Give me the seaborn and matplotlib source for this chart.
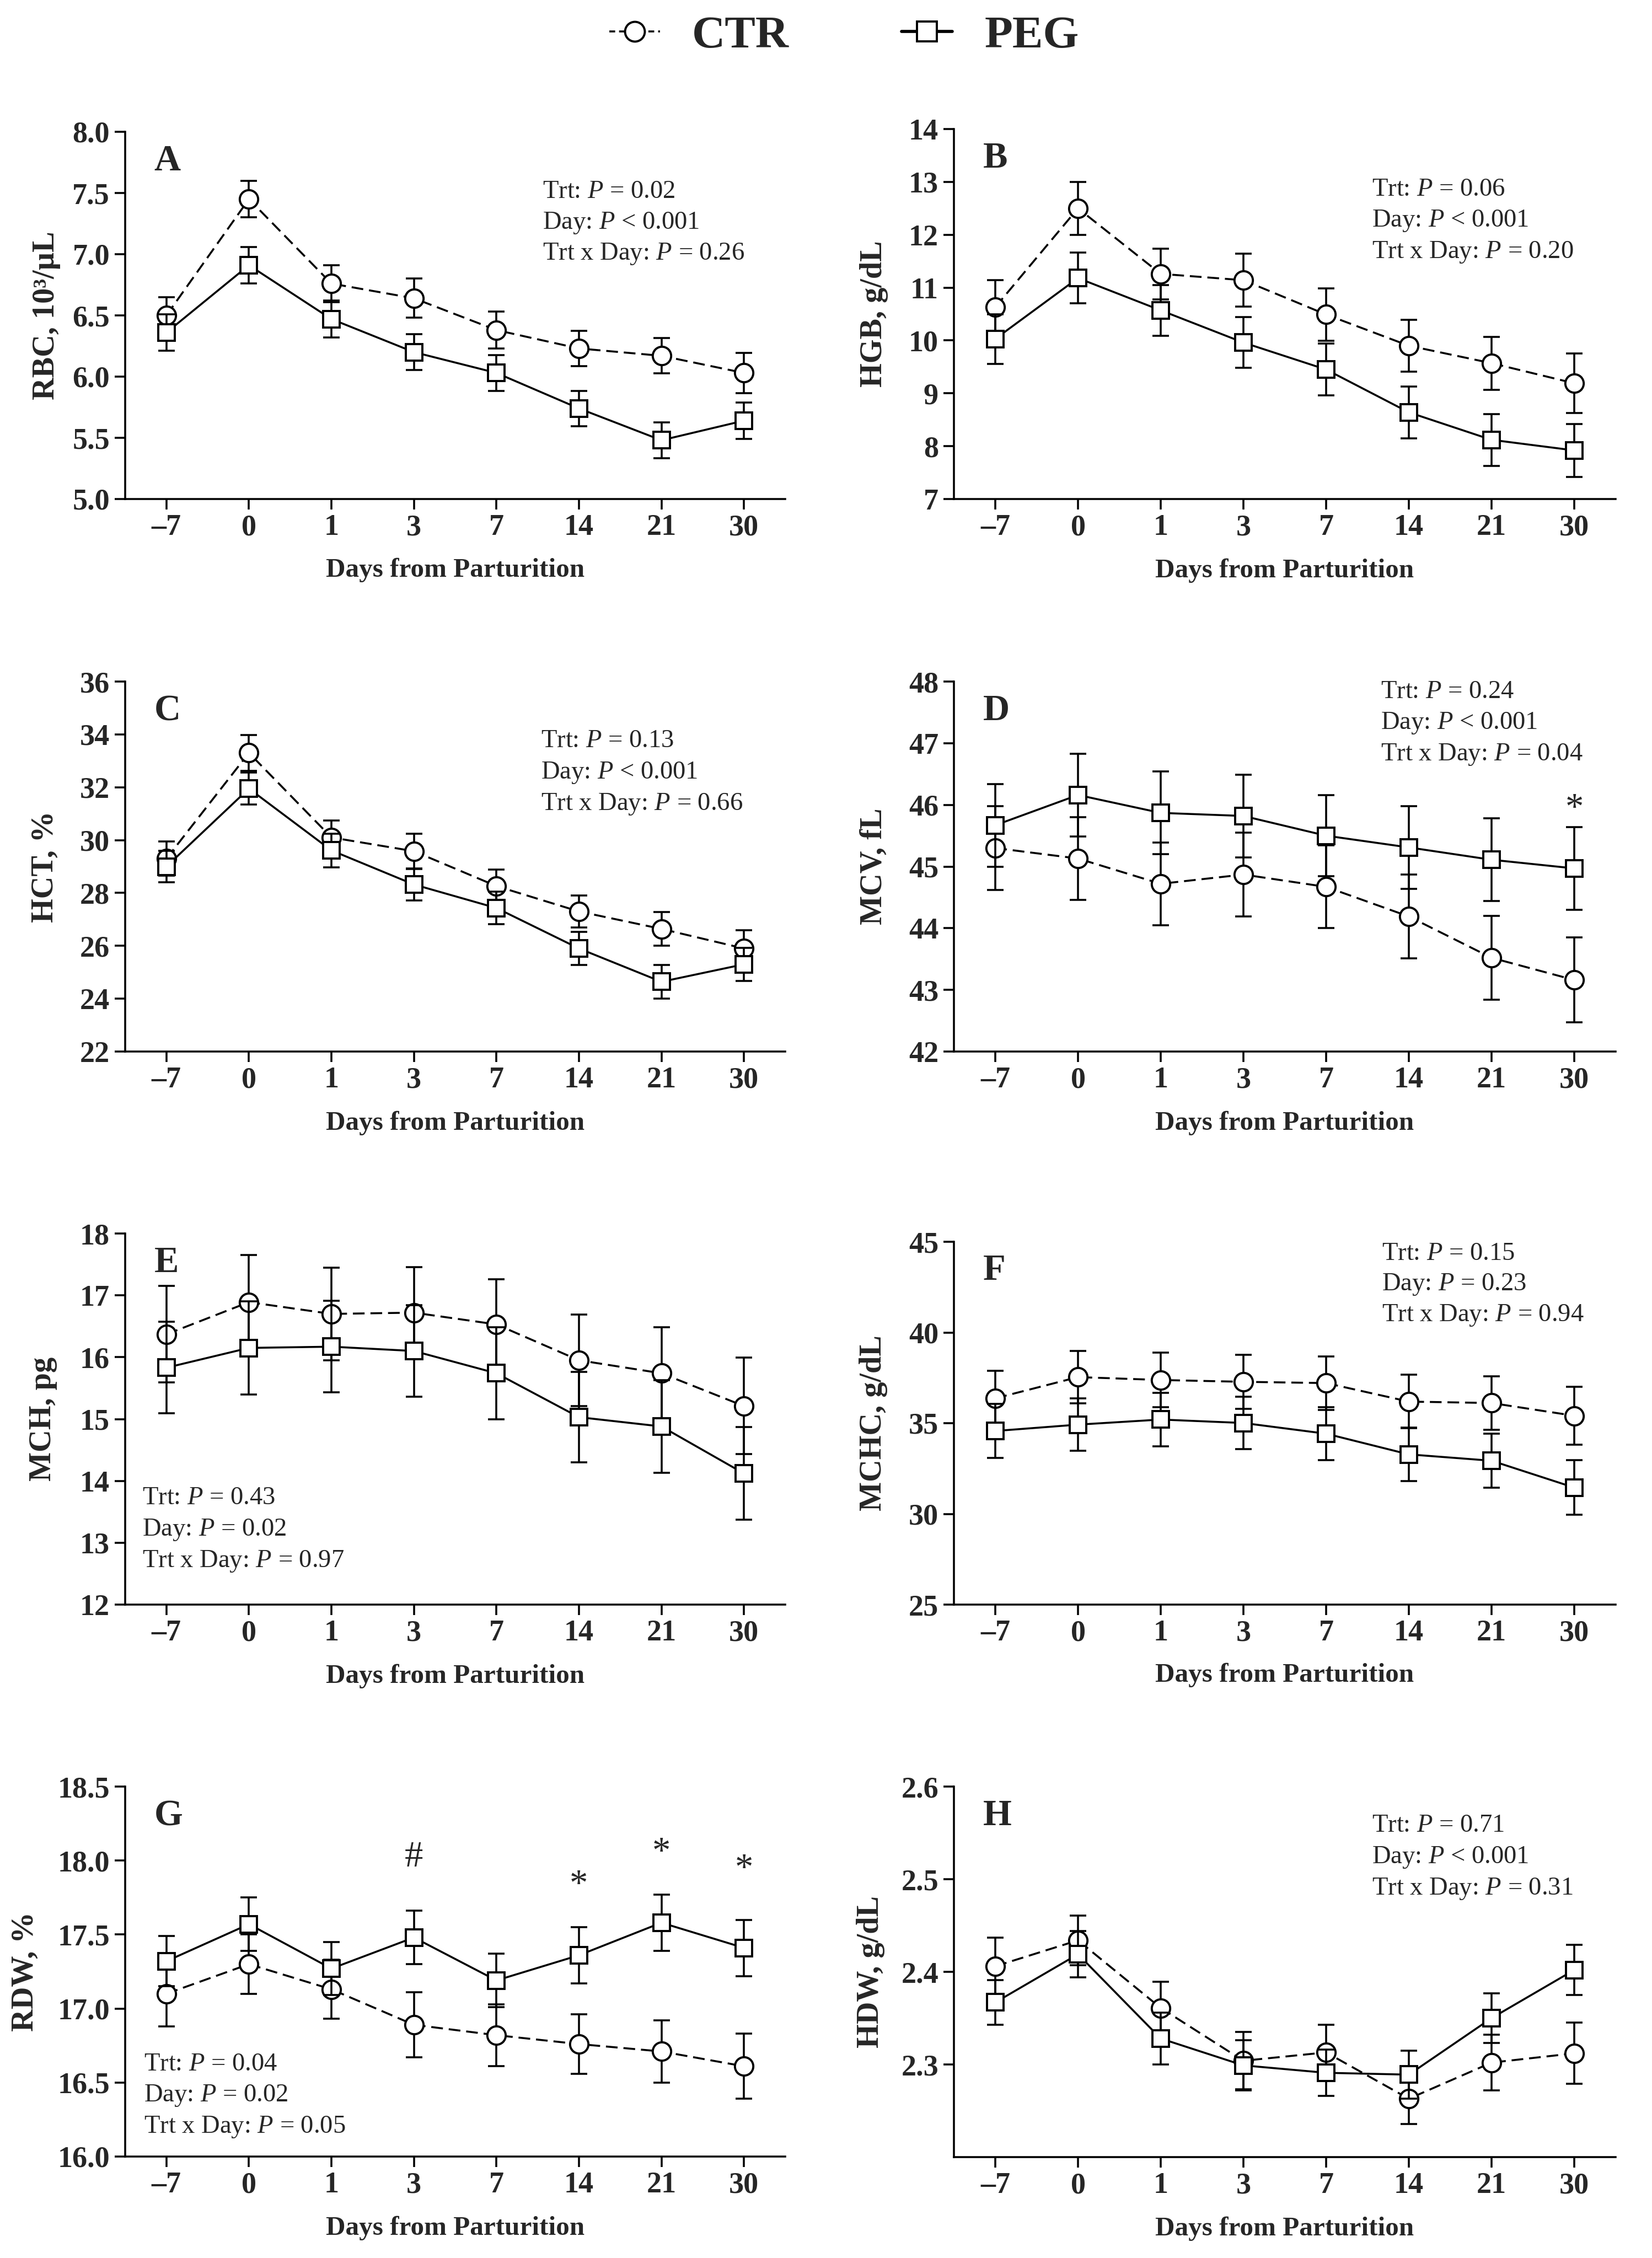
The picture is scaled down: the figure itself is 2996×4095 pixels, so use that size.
import numpy as np
import pandas as pd
import seaborn as sns
import matplotlib.pyplot as plt
from matplotlib.lines import Line2D

# ------------------------------- DATA ------------------------------------------------------------
DAYS = ["\u20137", "0", "1", "3", "7", "14", "21", "30"]

RBC_CTR = [6.50, 7.45, 6.76, 6.64, 6.38, 6.23, 6.17, 6.03]
RBC_CTR_SE = [0.15, 0.15, 0.15, 0.16, 0.15, 0.145, 0.145, 0.165]
RBC_PEG = [6.36, 6.91, 6.47, 6.20, 6.03, 5.74, 5.48, 5.64]
RBC_PEG_SE = [0.15, 0.15, 0.15, 0.145, 0.145, 0.145, 0.145, 0.15]

HGB_CTR = [10.63, 12.50, 11.26, 11.14, 10.49, 9.90, 9.57, 9.19]
HGB_CTR_SE = [0.51, 0.50, 0.48, 0.50, 0.50, 0.49, 0.50, 0.56]
HGB_PEG = [10.03, 11.18, 10.57, 9.96, 9.45, 8.64, 8.12, 7.92]
HGB_PEG_SE = [0.47, 0.48, 0.48, 0.48, 0.49, 0.49, 0.49, 0.50]

HCT_CTR = [29.3, 33.3, 30.1, 29.58, 28.26, 27.30, 26.64, 25.90]
HCT_CTR_SE = [0.65, 0.68, 0.64, 0.67, 0.62, 0.60, 0.64, 0.68]
HCT_PEG = [29.0, 31.95, 29.61, 28.32, 27.43, 25.90, 24.64, 25.30]
HCT_PEG_SE = [0.60, 0.60, 0.64, 0.60, 0.62, 0.62, 0.63, 0.63]

MCV_CTR = [45.30, 45.13, 44.72, 44.87, 44.67, 44.19, 43.52, 43.16]
MCV_CTR_SE = [0.68, 0.67, 0.67, 0.68, 0.67, 0.68, 0.68, 0.69]
MCV_PEG = [45.67, 46.16, 45.87, 45.82, 45.50, 45.31, 45.11, 44.97]
MCV_PEG_SE = [0.67, 0.67, 0.67, 0.67, 0.66, 0.67, 0.67, 0.67]

MCH_CTR = [16.37, 16.89, 16.70, 16.72, 16.53, 15.95, 15.74, 15.21]
MCH_CTR_SE = [0.78, 0.76, 0.75, 0.74, 0.73, 0.74, 0.74, 0.78]
MCH_PEG = [15.83, 16.15, 16.17, 16.10, 15.74, 15.03, 14.88, 14.12]
MCH_PEG_SE = [0.74, 0.75, 0.74, 0.74, 0.74, 0.73, 0.75, 0.75]

MCHC_CTR = [36.37, 37.54, 37.38, 37.28, 37.21, 36.19, 36.11, 35.41]
MCHC_CTR_SE = [1.53, 1.44, 1.50, 1.48, 1.47, 1.47, 1.48, 1.60]
MCHC_PEG = [34.57, 34.92, 35.20, 35.01, 34.42, 33.28, 32.93, 31.45]
MCHC_PEG_SE = [1.48, 1.44, 1.47, 1.44, 1.45, 1.47, 1.50, 1.50]

RDW_CTR = [17.10, 17.30, 17.13, 16.89, 16.82, 16.76, 16.71, 16.61]
RDW_CTR_SE = [0.22, 0.20, 0.20, 0.22, 0.21, 0.20, 0.21, 0.22]
RDW_PEG = [17.32, 17.57, 17.27, 17.48, 17.19, 17.36, 17.58, 17.41]
RDW_PEG_SE = [0.17, 0.18, 0.18, 0.18, 0.18, 0.19, 0.19, 0.19]

HDW_CTR = [2.406, 2.434, 2.361, 2.304, 2.313, 2.263, 2.302, 2.312]
HDW_CTR_SE = [0.031, 0.027, 0.028, 0.031, 0.030, 0.027, 0.030, 0.033]
HDW_PEG = [2.367, 2.419, 2.328, 2.299, 2.291, 2.289, 2.350, 2.402]
HDW_PEG_SE = [0.024, 0.025, 0.028, 0.027, 0.025, 0.026, 0.027, 0.027]

# P values (Trt, Day, Trt x Day)
RBC_P = ["= 0.02", "< 0.001", "= 0.26"]
HGB_P = ["= 0.06", "< 0.001", "= 0.20"]
HCT_P = ["= 0.13", "< 0.001", "= 0.66"]
MCV_P = ["= 0.24", "< 0.001", "= 0.04"]
MCH_P = ["= 0.43", "= 0.02", "= 0.97"]
MCHC_P = ["= 0.15", "= 0.23", "= 0.94"]
RDW_P = ["= 0.04", "= 0.02", "= 0.05"]
HDW_P = ["= 0.71", "< 0.001", "= 0.31"]

# significance marks (symbol, day index, y value)
MCV_MARKS = [("*", 7, 45.93)]
RDW_MARKS = [("#", 3, 18.02), ("*", 5, 17.83), ("*", 6, 18.05), ("*", 7, 17.94)]


# ------------------------------- STYLE --------------------------------------
sns.set_style("ticks")
plt.rcParams["font.family"] = ["Liberation Serif", "DejaVu Serif"]
plt.rcParams["mathtext.fontset"] = "custom"
plt.rcParams["mathtext.rm"] = "Liberation Serif"
plt.rcParams["mathtext.it"] = "Liberation Serif:italic"
plt.rcParams["mathtext.bf"] = "Liberation Serif:bold"

LW = 0.85
W, H = 2996, 4095


def box(left, right, top, bottom):
    # pixel box -> figure fraction
    return [left / W, 1 - bottom / H, (right - left) / W, (bottom - top) / H]


def draw_panel(ax, ctr, ctr_se, peg, peg_se):
    pos = np.arange(len(DAYS))
    df = pd.DataFrame({"pos": pos, "ctr": ctr, "peg": peg})

    ax.errorbar(pos, ctr, yerr=ctr_se, fmt="none", ecolor="black",
                elinewidth=LW, capsize=3.6, capthick=LW, zorder=2)
    sns.lineplot(data=df, x="pos", y="ctr", ax=ax, color="black", linewidth=LW,
                 linestyle=(0, (6, 3)), marker="o", markersize=8,
                 markerfacecolor="white", markeredgecolor="black",
                 markeredgewidth=LW * 1.1, errorbar=None, zorder=3)
    ax.errorbar(pos, peg, yerr=peg_se, fmt="none", ecolor="black",
                elinewidth=LW, capsize=3.6, capthick=LW, zorder=4)
    sns.lineplot(data=df, x="pos", y="peg", ax=ax, color="black", linewidth=LW,
                 linestyle="-", marker="s", markersize=7.3,
                 markerfacecolor="white", markeredgecolor="black",
                 markeredgewidth=LW * 1.1, errorbar=None, zorder=5)

    ax.set_xlim(-0.5, 7.5)
    ax.set_xticks(pos)
    ax.set_xticklabels(DAYS, fontsize=13, fontweight="bold")
    ax.set_xlabel("Days from Parturition", fontsize=11.8, fontweight="bold")
    ax.xaxis.set_label_coords(0.5, -0.16)
    ax.tick_params(axis="both", direction="out", length=4.5, width=LW, color="black")
    ax.tick_params(axis="x", pad=2)
    ax.tick_params(axis="y", pad=2.2)
    for s in ["left", "bottom"]:
        ax.spines[s].set_linewidth(LW)
        ax.spines[s].set_color("black")
    sns.despine(ax=ax)


fig = plt.figure(figsize=(W / 300, H / 300), dpi=300)

L_COL = (227, 1424)
R_COL = (1730, 2930)

panels = [
    # letter, ylabel, data, P, ylim, yticks, fmt, axes box, stats x, stats y, ylabel x, marks
    ("A", "RBC, 10\u00b3/\u00b5L", (RBC_CTR, RBC_CTR_SE, RBC_PEG, RBC_PEG_SE), RBC_P,
     (5.0, 8.0), np.arange(5.0, 8.01, 0.5), "{:.1f}", (L_COL, 239, 905), 0.632, 0.837, -0.098, []),
    ("B", "HGB, g/dL", (HGB_CTR, HGB_CTR_SE, HGB_PEG, HGB_PEG_SE), HGB_P,
     (7, 14), np.arange(7, 15, 1), "{:.0f}", (R_COL, 234, 905), 0.632, 0.837, -0.099, []),
    ("C", "HCT, %", (HCT_CTR, HCT_CTR_SE, HCT_PEG, HCT_PEG_SE), HCT_P,
     (22, 36), np.arange(22, 37, 2), "{:.0f}", (L_COL, 1236, 1907), 0.630, 0.839, -0.1, []),
    ("D", "MCV, fL", (MCV_CTR, MCV_CTR_SE, MCV_PEG, MCV_PEG_SE), MCV_P,
     (42, 48), np.arange(42, 49, 1), "{:.0f}", (R_COL, 1236, 1907), 0.645, 0.972, -0.099, MCV_MARKS),
    ("E", "MCH, pg", (MCH_CTR, MCH_CTR_SE, MCH_PEG, MCH_PEG_SE), MCH_P,
     (12, 18), np.arange(12, 19, 1), "{:.0f}", (L_COL, 2237, 2910), 0.026, 0.287, -0.103, []),
    ("F", "MCHC, g/dL", (MCHC_CTR, MCHC_CTR_SE, MCHC_PEG, MCHC_PEG_SE), MCHC_P,
     (25, 45), np.arange(25, 46, 5), "{:.0f}", (R_COL, 2252, 2910), 0.647, 0.967, -0.1, []),
    ("G", "RDW, %", (RDW_CTR, RDW_CTR_SE, RDW_PEG, RDW_PEG_SE), RDW_P,
     (16.0, 18.5), np.arange(16.0, 18.51, 0.5), "{:.1f}", (L_COL, 3240, 3911), 0.028, 0.249, -0.13, RDW_MARKS),
    ("H", "HDW, g/dL", (HDW_CTR, HDW_CTR_SE, HDW_PEG, HDW_PEG_SE), HDW_P,
     (2.2, 2.6), np.arange(2.3, 2.61, 0.1), "{:.1f}", (R_COL, 3240, 3912), 0.632, 0.894, -0.104, []),
]

for letter, ylab, data, pvals, ylim, yticks, fmt, bx, sx, sy, lx, marks in panels:
    (l, r), t, b = bx
    ax = fig.add_axes(box(l, r, t, b))
    draw_panel(ax, *data)
    ax.set_ylim(*ylim)
    ax.set_yticks(yticks)
    ax.set_yticklabels([fmt.format(v) for v in yticks], fontsize=13, fontweight="bold")
    ax.set_ylabel(ylab, fontsize=13.5, fontweight="bold")
    ax.yaxis.set_label_coords(lx, 0.5)

    ax.text(0.044, 0.92, letter, transform=ax.transAxes, fontsize=16,
            fontweight="bold", ha="left", va="center")

    names = ["Trt", "Day", "Trt x Day"]
    for i, (nm, p) in enumerate(zip(names, pvals)):
        ax.text(sx, sy - i * 0.085, f"{nm}: $P$ {p}", transform=ax.transAxes,
                fontsize=11.2, ha="left", va="center")

    for sym, xi, yv in marks:
        ax.text(xi, yv, sym, fontsize=16, ha="center", va="center")

# legend on top
h_ctr = Line2D([], [], color="black", lw=LW, ls=(0, (3, 2)), marker="o", markersize=8.6,
               markerfacecolor="white", markeredgecolor="black", markeredgewidth=LW * 1.1)
h_peg = Line2D([], [], color="black", lw=LW * 1.6, ls="-", marker="s", markersize=8.6,
               markerfacecolor="white", markeredgecolor="black", markeredgewidth=LW * 1.1)
fig.legend([h_ctr, h_peg], ["CTR", "PEG"], loc="center", bbox_to_anchor=(0.511, 0.984),
           ncol=2, frameon=False, handlelength=1.1, handletextpad=0.7, columnspacing=2.45,
           prop={"family": "Liberation Serif", "weight": "bold", "size": 20})

fig.savefig("out.png", dpi=300, facecolor="white")
